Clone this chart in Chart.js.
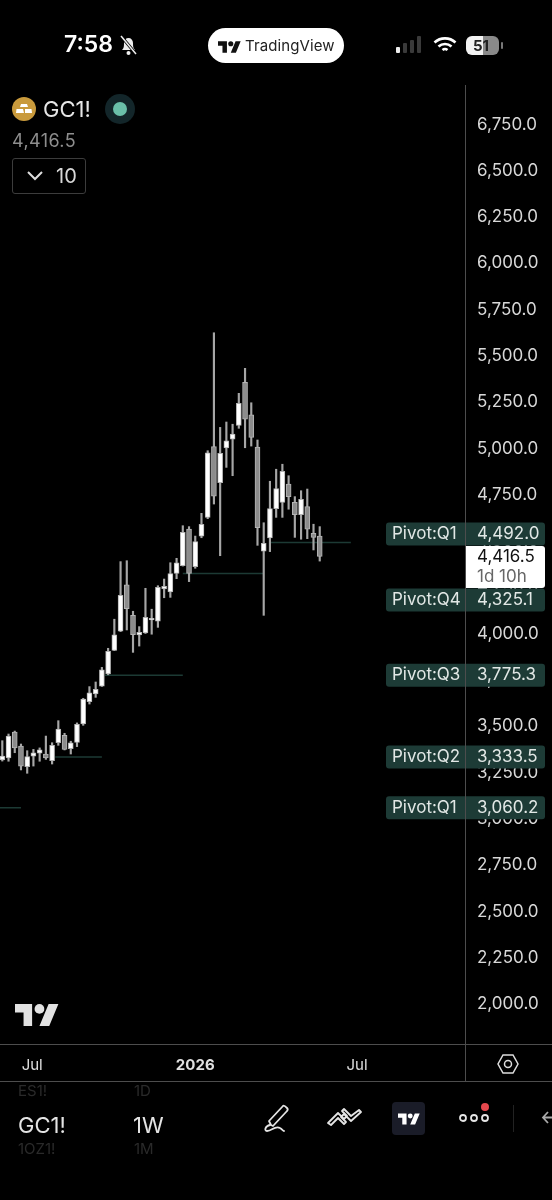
<!DOCTYPE html>
<html>
<head>
<meta charset="utf-8">
<title>GC1! 1W</title>
<script src="https://cdn.jsdelivr.net/npm/chart.js@4"></script>
<style>
  html, body { margin: 0; background: #000; }
  #screen { position: relative; width: 552px; height: 1200px; overflow: hidden; background: #000; color: #fff; font-family: Inter, "Noto Sans", sans-serif; }
  #screen canvas { position: absolute; left: 0; top: 0; }
  .t { position: absolute; white-space: nowrap; line-height: 1; }
  svg { position: absolute; overflow: visible; }
</style>
</head>
<body>
<div id="screen">
  <canvas id="chart" width="552" height="1200"></canvas>

  <svg width="0" height="0"><defs><g id="tv"><path d="M14 22H7V11H0V4h14v18zM28 22h-8l7.5-18h8L28 22z"/><circle cx="20" cy="8" r="4"/></g></defs></svg>

  <!-- status bar -->
  <div class="t" style="left:64px;top:33px;font-size:23px;font-weight:600">7:58</div>
  <svg style="left:119px;top:33px" width="20" height="24" fill="#eee" stroke="#eee" stroke-width="1.5">
    <path d="M3 17c2-2 2-4 2-7 0-3 2-5 4.500-5s4.500 2 4.500 5c0 3 0 5 2 7z" stroke="none"/><circle cx="9.500" cy="20" r="2" stroke="none"/><path d="M2 3l15 18" stroke="#000" stroke-width="3"/><path d="M2 3l15 18"/>
  </svg>
  <div style="position:absolute;left:208px;top:28px;width:136px;height:35px;border-radius:18px;background:#fff"></div>
  <svg style="left:218px;top:38px" width="23" height="18" viewBox="0 0 36 26" fill="#111"><use href="#tv"/></svg>
  <div class="t" style="left:245px;top:38px;font-size:15px;letter-spacing:0.1px;color:#222">TradingView</div>
  <svg style="left:396px;top:36px" width="26" height="20">
    <rect x="0" y="11" width="4" height="6" rx="1" fill="#eee"/><rect x="7" y="7" width="4" height="10" rx="1" fill="#3a3a3a"/><rect x="14" y="4" width="4" height="13" rx="1" fill="#3a3a3a"/><rect x="21" y="0" width="4" height="17" rx="1" fill="#3a3a3a"/>
  </svg>
  <svg style="left:433px;top:36px" width="24" height="18" fill="none" stroke="#fff" stroke-width="2.6">
    <path d="M1.5 6.5c6-5.500 15-5.500 21 0"/><path d="M5.500 10.500c3.700-3.300 9.300-3.300 13 0"/><path d="M9.500 14c1.500-1.200 3.500-1.200 5 0"/>
  </svg>
  <div style="position:absolute;left:466px;top:36px;width:33px;height:19px;border-radius:6px;background:linear-gradient(90deg,#f2f2f2 0,#f2f2f2 52%,#8a8a8a 52%,#8a8a8a 100%)"></div>
  <div style="position:absolute;left:501px;top:42px;width:2px;height:7px;border-radius:1px;background:#777"></div>
  <div class="t" style="left:473px;top:38px;font-size:15px;font-weight:700;color:#222">51</div>

  <!-- symbol header -->
  <svg style="left:12px;top:97px" width="24" height="24"><circle cx="12" cy="12" r="12" fill="#c99a3c"/><path d="M9 7h6l1 3H8zM4.500 12h6.500l1 4H4zM13 12h6.500l.5 4h-7z" fill="#fff"/></svg>
  <div class="t" style="left:43px;top:98px;font-size:22px;color:#e6e6e6">GC1!</div>
  <svg style="left:105px;top:94px" width="30" height="30"><circle cx="15" cy="15" r="15" fill="#13262a"/><circle cx="15" cy="15" r="7" fill="#6abfa9"/></svg>
  <div class="t" style="left:12px;top:132px;font-size:18px;letter-spacing:0.4px;color:#8e8e8e">4,416.5</div>
  <div style="position:absolute;left:12px;top:158px;width:72px;height:34px;border:1px solid #3c3c3c;border-radius:3px"></div>
  <svg style="left:27px;top:171px" width="16" height="10" fill="none" stroke="#ddd" stroke-width="2"><path d="M1 1l7 7 7-7"/></svg>
  <div class="t" style="left:56px;top:166px;font-size:20px;color:#d8d8d8">10</div>

  <!-- watermark -->
  <svg style="left:15px;top:998px" width="44" height="34" viewBox="0 0 36 26" fill="#e2e2e2"><use href="#tv"/></svg>

  <!-- axis corner button -->
  <svg style="left:497px;top:1053px" width="22" height="22" fill="none" stroke="#ddd" stroke-width="1.500"><path d="M6 2h10l5 9-5 9H6l-5-9z"/><circle cx="11" cy="11" r="3.500"/></svg>

  <!-- bottom toolbar -->
  <div class="t" style="left:18px;top:1083px;font-size:15px;color:#2a2a2a">ES1!</div>
  <div class="t" style="left:134px;top:1083px;font-size:15px;color:#2a2a2a">1D</div>
  <div class="t" style="left:18px;top:1114px;font-size:22px;color:#e4e4e4">GC1!</div>
  <div class="t" style="left:133px;top:1114px;font-size:22px;color:#e4e4e4">1W</div>
  <div class="t" style="left:18px;top:1141px;font-size:15px;color:#2a2a2a">1OZ1!</div>
  <div class="t" style="left:134px;top:1141px;font-size:15px;color:#2a2a2a">1M</div>
  <svg style="left:263px;top:1103px" width="32" height="32" fill="none" stroke="#e4e4e4" stroke-width="1.800" stroke-linecap="round" stroke-linejoin="round">
    <path d="M8 22l-2-4L20 3c1-1 3 1 4 2s1 2 0 3L10 23z"/><path d="M7 22c-5 1-6 6-3 6 5 0 8-6 13-3 2 1 3 3 4 3"/>
  </svg>
  <svg style="left:327px;top:1106px" width="34" height="26" fill="none" stroke="#e4e4e4" stroke-width="1.800" stroke-linejoin="round">
    <path d="M1 17L11 7l6 6 3-3-5-5 2-2 7 7 8-6 2 2-10 9-7-7-3 3 5 5-2 2-6-6-7 7z"/>
  </svg>
  <div style="position:absolute;left:392px;top:1102px;width:33px;height:33px;border-radius:4px;background:#1a1c28"></div>
  <svg style="left:398px;top:1110px" width="22" height="18" viewBox="0 0 36 26" fill="#fff"><use href="#tv"/></svg>
  <svg style="left:458px;top:1100px" width="36" height="30" fill="none" stroke="#e4e4e4" stroke-width="1.800">
    <circle cx="5" cy="18" r="3"/><circle cx="16" cy="18" r="3"/><circle cx="27" cy="18" r="3"/><circle cx="27" cy="7" r="4" fill="#e5484d" stroke="none"/>
  </svg>
  <div style="position:absolute;left:513px;top:1105px;width:1px;height:27px;background:#222"></div>
  <svg style="left:541px;top:1111px" width="12" height="14" fill="none" stroke="#aaa" stroke-width="1.800"><path d="M7 1L2 6.500 7 12M2 6.500h10"/></svg>
</div>

<script>
// weekly candles
const opens = [3318,3329,3469,3393,3282,3339,3354,3350,3314,3411,3451,3379,3413,3512,3633,3674,3717,3782,3910,4014,4264,4099,3993,4004,4074,4067,4241,4225,4326,4367,4565,4362,4527,4628,5010,4815,5003,5050,5125,5357,5182,5008,4446,4517,4675,4709,4808,4709,4642,4686,4542,4527];
const highs = [3422,3458,3474,3404,3368,3375,3383,3447,3411,3530,3462,3419,3518,3651,3714,3739,3818,3921,4078,4389,4394,4121,4038,4245,4132,4259,4295,4383,4407,4583,4578,4527,4650,4988,5625,5114,5143,5131,5298,5433,5247,5046,4599,4823,4888,4915,4853,4740,4772,4781,4591,4578];
const lows = [3312,3311,3357,3264,3246,3285,3311,3321,3296,3397,3372,3350,3390,3505,3620,3656,3715,3778,3908,4011,4020,3899,3933,4001,3997,4034,4194,4196,4297,4365,4281,4353,4518,4621,4700,4421,4898,4853,5109,5004,5013,4477,4099,4443,4628,4628,4672,4520,4510,4513,4452,4392];
const closes = [3339,3447,3383,3285,3336,3357,3372,3329,3397,3485,3375,3411,3511,3647,3680,3700,3804,3905,3994,4207,4135,3994,4007,4088,4083,4250,4256,4324,4382,4547,4326,4497,4591,4977,4743,4974,5042,5078,5244,5158,5060,4572,4488,4675,4783,4877,4740,4642,4726,4564,4520,4416.5];

const pivotNames = ["Pivot:Q1","Pivot:Q2","Pivot:Q3","Pivot:Q4","Pivot:Q1"];
const pivotValues = [3060.2,3333.5,3775.3,4325.1,4492.0];
const pivotStarts = [-3,8.5,16.5,29,43];
const pivotEnds = [3,16,29,42,56];

const lastPrice = 4416.5;
const lastCountdown = "1d 10h";

const yTicks = [2000,2250,2500,2750,3000,3250,3500,3750,4000,4250,4500,4750,5000,5250,5500,5750,6000,6250,6500,6750];
const xTickWeeks = [4.8,31,57];
const xTickLabels = ["Jul","2026","Jul"];

const FONT = 'Inter, "Noto Sans", sans-serif';
const fmt = v => v.toLocaleString("en-US", {minimumFractionDigits: 1, maximumFractionDigits: 1});

const wicks = highs.map((h, i) => ({x: i, y: [lows[i], h]}));
const bodies = opens.map((o, i) => ({x: i, y: [Math.min(o, closes[i]), Math.max(o, closes[i])]}));
const isUp = opens.map((o, i) => closes[i] >= o);

const pivotLines = pivotValues.map((v, i) => ({
    type: "line",
    data: [{x: pivotStarts[i], y: v}, {x: pivotEnds[i], y: v}],
    borderColor: "#1c3a34",
    borderWidth: 1.5,
    pointRadius: 0,
    order: 3
}));

// price labels over the axis, the frame lines go on top of them
const overlay = {
    id: "overlay",
    afterDraw(c) {
        const ctx = c.ctx;
        const y = c.scales.y;
        const boxTop = Math.round(y.getPixelForValue(lastPrice)) - 11;
        const boxH = 42;
        ctx.save();
        ctx.textBaseline = "middle";
        pivotValues.forEach((v, i) => {
            let cy = y.getPixelForValue(v);
            if (cy + 12 > boxTop && cy - 12 < boxTop + boxH) {
                cy = cy < boxTop + 10 ? boxTop - 12 : boxTop + boxH + 12;
            }
            ctx.fillStyle = "#1d3b36";
            ctx.beginPath();
            ctx.roundRect(386, cy - 11.5, 159, 23, 3);
            ctx.fill();
            ctx.fillStyle = "#e2e8e6";
            ctx.font = "17px " + FONT;
            ctx.textAlign = "left";
            ctx.fillText(pivotNames[i], 392, cy);
            ctx.fillText(fmt(v), 477, cy);
        });
        ctx.fillStyle = "#fff";
        ctx.beginPath();
        ctx.roundRect(465, boxTop, 80, boxH, [0, 3, 3, 0]);
        ctx.fill();
        ctx.textAlign = "left";
        ctx.fillStyle = "#111";
        ctx.font = "17px " + FONT;
        ctx.fillText(fmt(lastPrice), 477, boxTop + 11);
        ctx.fillStyle = "#666";
        ctx.fillText(lastCountdown, 477, boxTop + 31);

        ctx.strokeStyle = "#4d4d4d";
        ctx.lineWidth = 1;
        ctx.beginPath();
        ctx.moveTo(465.5, c.chartArea.top);
        ctx.lineTo(465.5, 1081);
        ctx.moveTo(0, 1044.5);
        ctx.lineTo(552, 1044.5);
        ctx.moveTo(0, 1081.5);
        ctx.lineTo(552, 1081.5);
        ctx.stroke();
        ctx.restore();
    }
};

new Chart(document.getElementById("chart"), {
    type: "bar",
    data: {
        datasets: [
            ...pivotLines,
            {
                data: wicks,
                backgroundColor: "#a6a6a6",
                barThickness: 1.5,
                grouped: false,
                order: 2
            },
            {
                data: bodies,
                backgroundColor: isUp.map(u => u ? "#ffffff" : "#8c8c8c"),
                borderColor: "#b4b4b4",
                borderWidth: 1,
                borderSkipped: false,
                barThickness: 5,
                grouped: false,
                order: 1
            }
        ]
    },
    options: {
        responsive: false,
        animation: false,
        events: [],
        layout: {padding: {top: 85, bottom: 119, left: 0, right: 0}},
        plugins: {legend: {display: false}, tooltip: {enabled: false}},
        scales: {
            x: {
                type: "linear",
                offset: false,
                min: -0.37,
                max: 74.34,
                grid: {display: false, drawTicks: false},
                border: {display: false},
                afterFit(s) { s.height = 37; },
                afterBuildTicks(s) { s.ticks = xTickWeeks.map(value => ({value})); },
                ticks: {
                    autoSkip: false,
                    maxRotation: 0,
                    padding: 12,
                    color: "#e0e0e0",
                    callback: v => xTickLabels[xTickWeeks.indexOf(v)],
                    font: ctx => ({family: FONT, size: 15, weight: ctx.index === 1 ? "700" : "400"})
                }
            },
            y: {
                position: "right",
                min: 1784,
                max: 6963,
                grid: {display: false, drawTicks: false},
                border: {display: false},
                afterFit(s) { s.width = 87; },
                afterBuildTicks(s) { s.ticks = yTicks.map(value => ({value})); },
                ticks: {
                    autoSkip: false,
                    padding: 12,
                    color: "#d8d8d8",
                    font: {family: FONT, size: 17},
                    callback: v => fmt(v)
                }
            }
        }
    },
    plugins: [overlay]
});
</script>
</body>
</html>
